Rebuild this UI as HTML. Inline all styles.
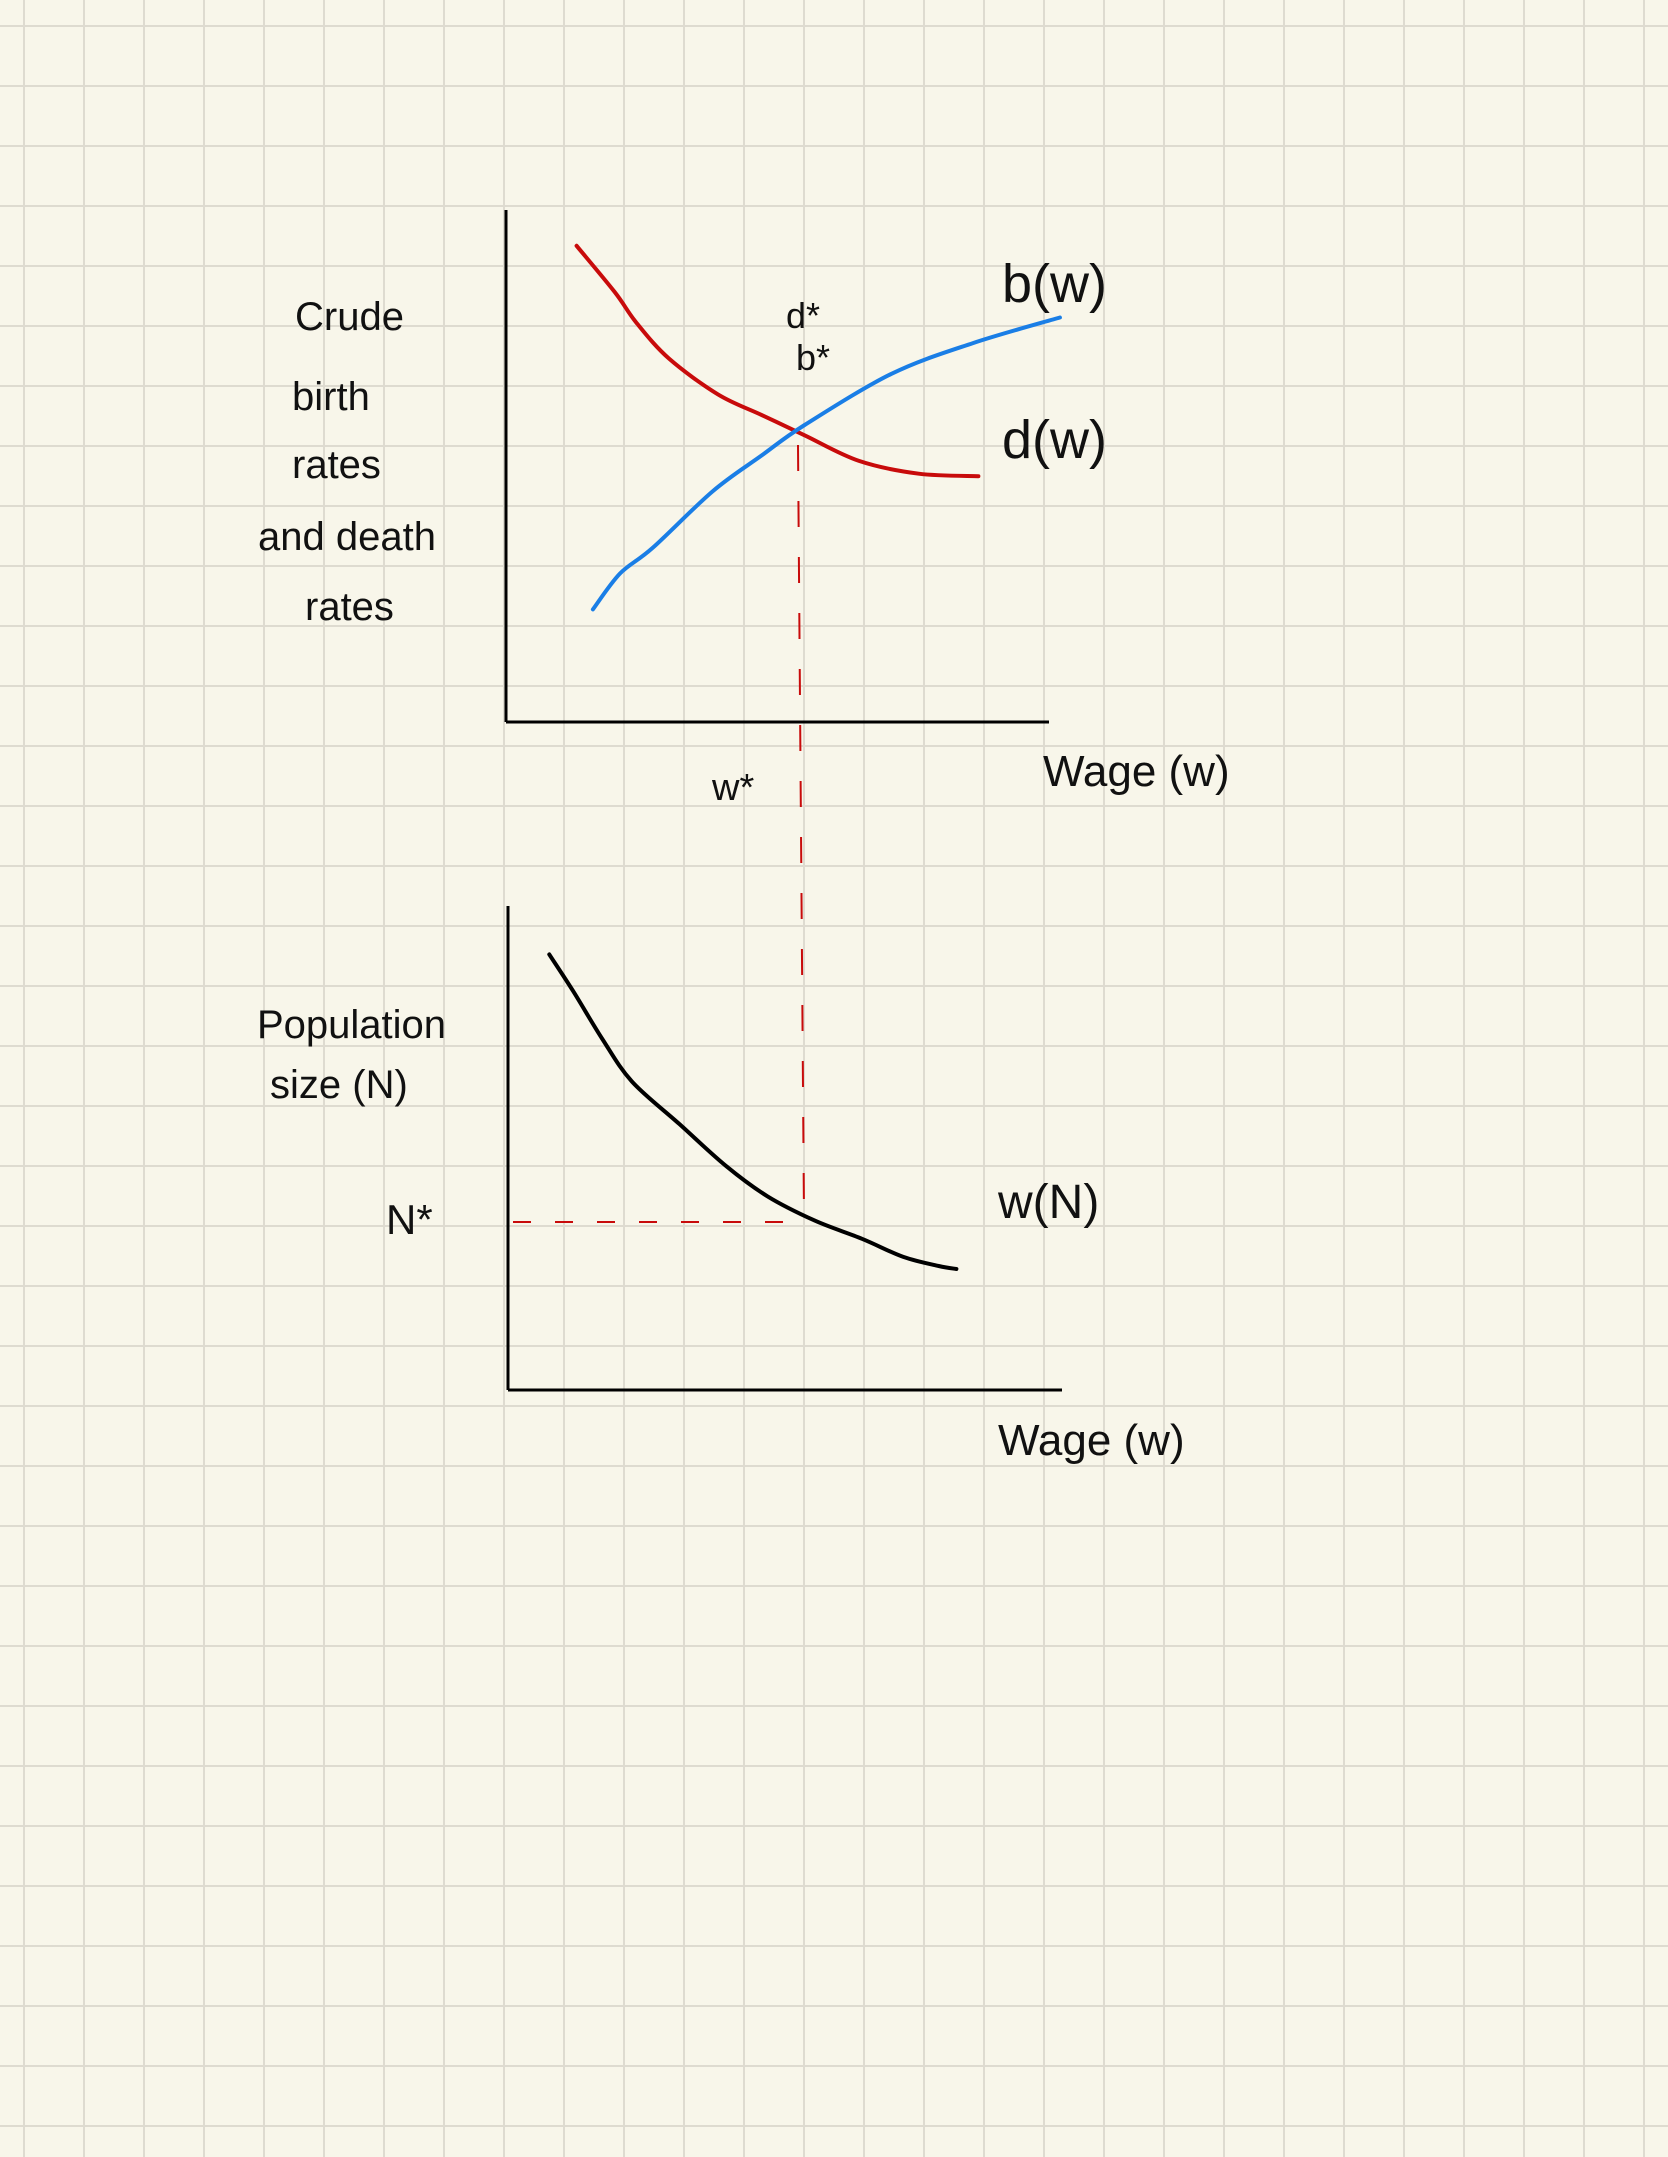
<!DOCTYPE html>
<html><head><meta charset="utf-8"><style>
html,body{margin:0;padding:0;background:#f8f6ea;}
svg{display:block;}
text{font-family:"Liberation Sans",sans-serif;fill:#111;}
</style></head><body>
<svg id="chart" width="1668" height="2157" viewBox="0 0 1668 2157" xmlns="http://www.w3.org/2000/svg">
<rect width="1668" height="2157" fill="#f8f6ea"/>
<g id="grid" stroke="#dedbd0" stroke-width="2"></g>

<g>
<line x1="506" y1="210" x2="506" y2="722" stroke="#000" stroke-width="3"/>
<line x1="506" y1="722" x2="1049" y2="722" stroke="#000" stroke-width="3"/>
<path id="deathLine" fill="none" stroke="#c80b0b" stroke-width="4" stroke-linecap="round"/>
<path id="birthLine" fill="none" stroke="#1a7ee6" stroke-width="4" stroke-linecap="round"/>
<text x="295" y="330" font-size="40">Crude</text>
<text x="292" y="410" font-size="40">birth</text>
<text x="292" y="478" font-size="40">rates</text>
<text x="258" y="550" font-size="40">and death</text>
<text x="305" y="620" font-size="40">rates</text>
<text x="786" y="328" font-size="36">d*</text>
<text x="796" y="370" font-size="36">b*</text>
<text x="1002" y="302" font-size="54">b(w)</text>
<text x="1002" y="458" font-size="54">d(w)</text>
<text x="712" y="800" font-size="38">w*</text>
<text x="1043" y="786" font-size="44">Wage (w)</text>
</g>

<g>
<line x1="508" y1="906" x2="508" y2="1390" stroke="#000" stroke-width="3"/>
<line x1="508" y1="1390" x2="1062" y2="1390" stroke="#000" stroke-width="3"/>
<path id="popLine" fill="none" stroke="#000" stroke-width="4" stroke-linecap="round"/>
<text x="257" y="1038" font-size="40">Population</text>
<text x="270" y="1098" font-size="40">size (N)</text>
<text x="386" y="1234" font-size="42">N*</text>
<text x="998" y="1218" font-size="48">w(N)</text>
<text x="998" y="1455" font-size="44">Wage (w)</text>
</g>
<line x1="798" y1="445" x2="804" y2="1216" stroke="#c80b0b" stroke-width="2" stroke-dasharray="26,30"/>
<line x1="513" y1="1222" x2="800" y2="1222" stroke="#c80b0b" stroke-width="2" stroke-dasharray="18,24"/>
</svg>
<script>
// Hand-drawn curves: wage values (x) and rates (y), in axis units
const topWage = [1.3, 2.0, 2.4, 3.0, 3.9, 4.7, 5.5, 6.5, 7.6, 8.7];
const deathRate = [9.3, 8.4, 7.8, 7.1, 6.4, 6.0, 5.6, 5.1, 4.85, 4.8];
const birthWage = [1.6, 2.1, 2.7, 3.8, 4.7, 5.5, 7.1, 8.6, 10.2];
const birthRate = [2.2, 2.9, 3.4, 4.5, 5.2, 5.8, 6.8, 7.4, 7.9];
const bottomWage = [0.7, 1.1, 1.6, 2.1, 2.9, 3.7, 4.4, 5.2, 6.0, 6.7, 7.3, 7.6];
const popSize = [7.2, 6.6, 5.8, 5.1, 4.4, 3.7, 3.2, 2.8, 2.5, 2.2, 2.05, 2.0];

function tx(v){return 506 + v*54.3;}
function ty(v){return 722 - v*51.2;}
function bx(v){return 508 + v*59;}
function by(v){return 1390 - v*60.5;}
function pathOf(xs, ys, fx, fy){
  const p = xs.map((x,i)=>[fx(x), fy(ys[i])]);
  let d = 'M'+p[0][0].toFixed(1)+' '+p[0][1].toFixed(1);
  for(let i=0;i<p.length-1;i++){
    const p0=p[Math.max(0,i-1)], p1=p[i], p2=p[i+1], p3=p[Math.min(p.length-1,i+2)];
    const c1=[p1[0]+(p2[0]-p0[0])/6, p1[1]+(p2[1]-p0[1])/6];
    const c2=[p2[0]-(p3[0]-p1[0])/6, p2[1]-(p3[1]-p1[1])/6];
    d+='C'+c1.map(v=>v.toFixed(1)).join(' ')+' '+c2.map(v=>v.toFixed(1)).join(' ')+' '+p2[0].toFixed(1)+' '+p2[1].toFixed(1);
  }
  return d;
}
document.getElementById('deathLine').setAttribute('d', pathOf(topWage, deathRate, tx, ty));
document.getElementById('birthLine').setAttribute('d', pathOf(birthWage, birthRate, tx, ty));
document.getElementById('popLine').setAttribute('d', pathOf(bottomWage, popSize, bx, by));

const g = document.getElementById('grid');
const NS='http://www.w3.org/2000/svg';
for(let x=24;x<1668;x+=60){
  const l=document.createElementNS(NS,'line');
  
  
  l.setAttribute('x1',x);l.setAttribute('x2',x);l.setAttribute('y1',0);l.setAttribute('y2',2157);
  g.appendChild(l);
}
for(let y=26;y<2157;y+=60){
  const l=document.createElementNS(NS,'line');
  
  
  l.setAttribute('y1',y);l.setAttribute('y2',y);l.setAttribute('x1',0);l.setAttribute('x2',1668);
  g.appendChild(l);
}
</script>
</body></html>
